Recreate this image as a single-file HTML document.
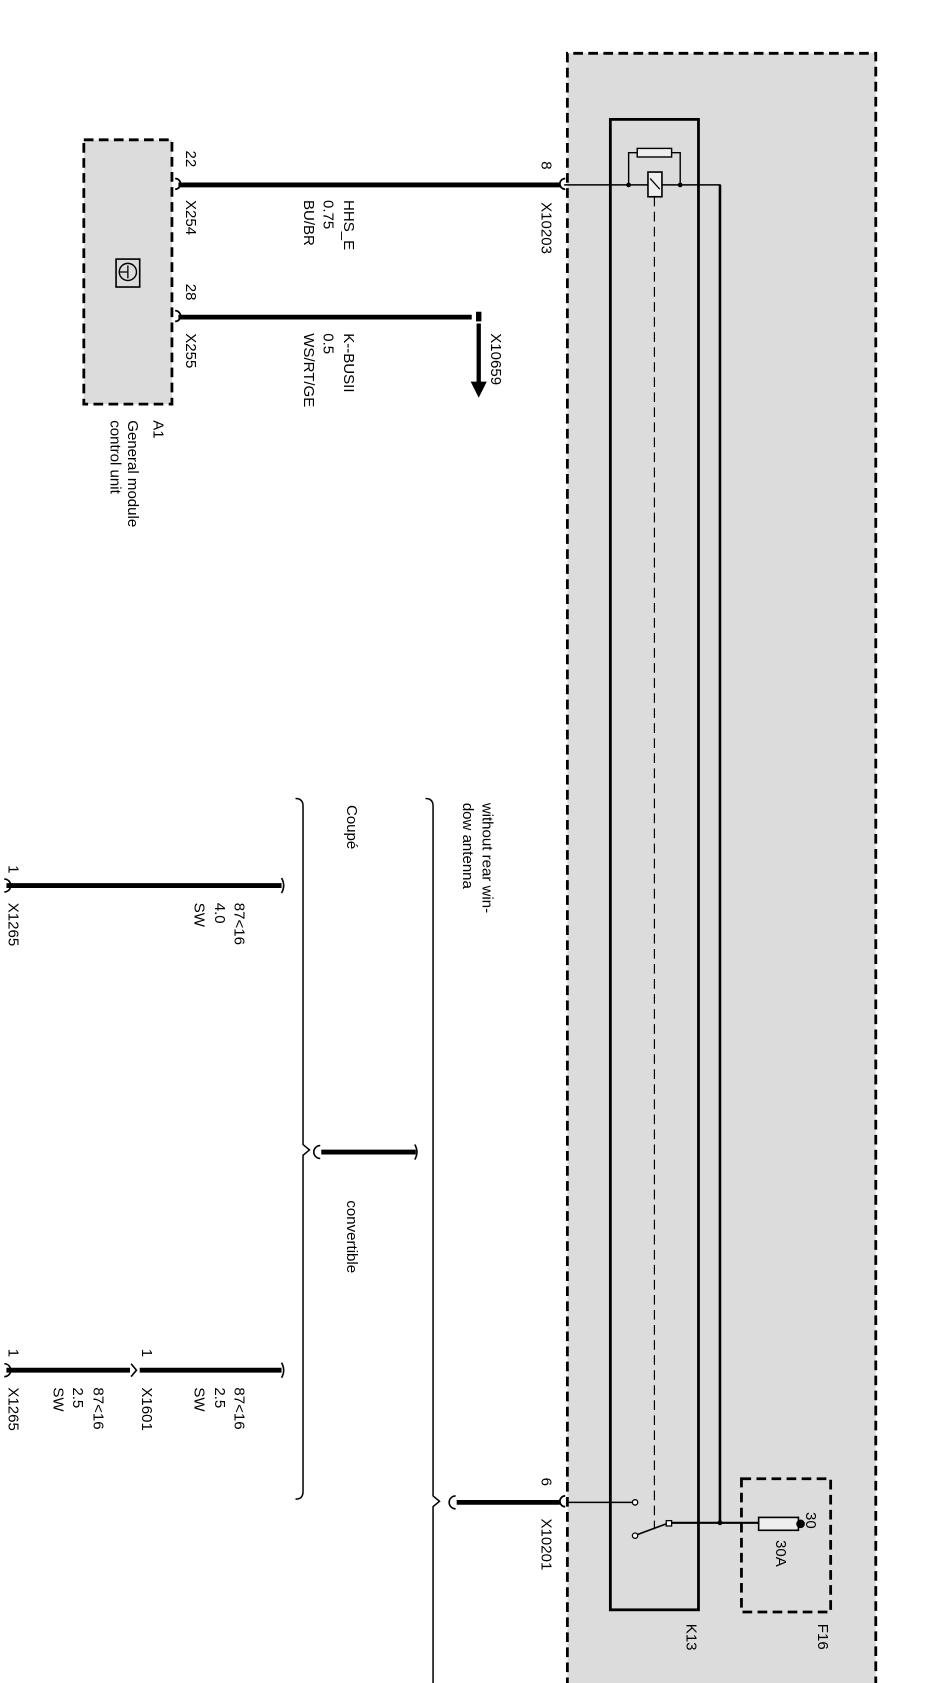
<!DOCTYPE html>
<html><head><meta charset="utf-8"><style>html,body{margin:0;padding:0;background:#fff}svg{display:block}text{font-family:"Liberation Sans",sans-serif;font-size:14px;fill:#000}</style></head>
<body>
<svg width="951" height="1683" viewBox="0 0 885 1566" xmlns="http://www.w3.org/2000/svg">
<rect width="885" height="1566" fill="#fff"/>
<!-- big grey box -->
<path d="M528,1570 V49.5 H815 V1570" fill="#dcdcdc" stroke="#000" stroke-width="2.6" stroke-dasharray="9 5"/>
<!-- A1 box -->
<rect x="78" y="130" width="82" height="246" fill="#dcdcdc" stroke="#000" stroke-width="2.6" stroke-dasharray="9 5"/>
<rect x="108" y="241" width="22" height="26" fill="none" stroke="#000" stroke-width="1.5"/>
<circle cx="119" cy="253" r="8" fill="none" stroke="#000" stroke-width="1.3"/>
<path d="M111,253 H119 M119,247 V259" stroke="#000" stroke-width="1.2"/>
<!-- wires top -->
<path d="M166,172 H521" stroke="#000" stroke-width="4.5"/>
<path d="M166,295 H439" stroke="#000" stroke-width="4.5"/>
<path d="M163,166 a5,5 0 0 1 0,10 M163,289 a5,5 0 0 1 0,10 M526,166 a5,5 0 0 0 0,10 M526,1392 a5,5 0 0 0 0,10" fill="none" stroke="#000" stroke-width="1.6"/>
<rect x="443" y="290" width="5" height="9" fill="#000"/>
<path d="M445.5,301 V358" stroke="#000" stroke-width="4"/>
<path d="M438,355 H453 L445.5,370 Z" fill="#000"/>
<!-- relay -->
<rect x="568" y="111" width="82" height="1387" fill="none" stroke="#000" stroke-width="2.6"/>
<path d="M525,172 H670 V1417" fill="none" stroke="#000" stroke-width="1.4"/>
<path d="M670,172 V1417" stroke="#000" stroke-width="2.4"/>
<rect x="593" y="138" width="32" height="8" fill="#eee" stroke="#000" stroke-width="1.3"/>
<path d="M585,172 V142 H593 M625,142 H633 V172" fill="none" stroke="#000" stroke-width="1.3"/>
<circle cx="585" cy="172" r="2.2"/><circle cx="633" cy="172" r="2.2"/>
<rect x="603" y="160" width="13" height="23" fill="#eee" stroke="#000" stroke-width="1.5"/>
<path d="M605,166 L614,176" stroke="#000" stroke-width="1.2"/>
<path d="M609,183 V1423" stroke="#000" stroke-width="1.1" stroke-dasharray="9 5"/>
<!-- switch -->
<path d="M528,1398 H589" stroke="#000" stroke-width="1.3"/>
<circle cx="591" cy="1398" r="2.5" fill="#fff" stroke="#000" stroke-width="1.2"/>
<circle cx="591" cy="1429" r="2.5" fill="#fff" stroke="#000" stroke-width="1.2"/>
<path d="M593,1428 L620,1418" stroke="#000" stroke-width="1.5"/>
<rect x="620" y="1415" width="5" height="5" fill="#fff" stroke="#000" stroke-width="1.2"/>
<path d="M625,1417 H706" stroke="#000" stroke-width="2"/>
<circle cx="670" cy="1417" r="2.3"/>
<!-- F16 -->
<rect x="690" y="1376" width="83" height="124" fill="none" stroke="#000" stroke-width="2.6" stroke-dasharray="9 5"/>
<rect x="706" y="1412" width="37" height="12" fill="#eee" stroke="#000" stroke-width="1.5"/>
<circle cx="745" cy="1418" r="4"/>
<!-- braces -->
<path d="M275,743 Q282,743 282,750 V1065 L288,1070 L282,1075 V1388 Q282,1395 275,1395" fill="none" stroke="#000" stroke-width="1.4"/>
<path d="M396,743 Q403,743 403,750 V1392 L409,1397 L403,1402 V1570" fill="none" stroke="#000" stroke-width="1.4"/>
<!-- short thick wires -->
<path d="M299,1072 H387" stroke="#000" stroke-width="4.5"/>
<path d="M298,1066 a5,5 0 0 0 0,12 M386,1065 q4,7 0,14" fill="none" stroke="#000" stroke-width="1.5"/>
<path d="M425,1398 H521" stroke="#000" stroke-width="4.5"/>
<path d="M424,1392 a5,5 0 0 0 0,12" fill="none" stroke="#000" stroke-width="1.5"/>
<!-- coupe wire -->
<path d="M6,824 H262" stroke="#000" stroke-width="4.5"/>
<path d="M4,818 a5,5 0 0 1 0,12 M262,817 q4,7 0,14" fill="none" stroke="#000" stroke-width="1.5"/>
<!-- bottom wires -->
<path d="M6,1275 H121 M130,1275 H262" stroke="#000" stroke-width="4.5"/>
<path d="M4,1269 a5,5 0 0 1 0,12 M122,1269 l5,6 l-5,6 M262,1268 q4,7 0,14" fill="none" stroke="#000" stroke-width="1.5"/>
<!-- texts -->
<g>
<text transform="translate(173,140) rotate(90)">22</text>
<text transform="translate(173,186) rotate(90)">X254</text>
<text transform="translate(173,264) rotate(90)">28</text>
<text transform="translate(173,310) rotate(90)">X255</text>
<text transform="translate(320,186) rotate(90)">HHS_E</text>
<text transform="translate(301,186) rotate(90)">0.75</text>
<text transform="translate(283,186) rotate(90)">BU/BR</text>
<text transform="translate(320,310) rotate(90)">K--BUSII</text>
<text transform="translate(301,310) rotate(90)">0.5</text>
<text transform="translate(283,310) rotate(90)">WS/RT/GE</text>
<text transform="translate(457,310) rotate(90)">X10659</text>
<text transform="translate(143,391) rotate(90)">A1</text>
<text transform="translate(119,391) rotate(90)">General module</text>
<text transform="translate(103,391) rotate(90)">control unit</text>
<text transform="translate(504,150) rotate(90)">8</text>
<text transform="translate(504,188) rotate(90)">X10203</text>
<text transform="translate(504,1375) rotate(90)">6</text>
<text transform="translate(504,1413) rotate(90)">X10201</text>
<text transform="translate(722,1433) rotate(90)">30A</text>
<text transform="translate(750,1407) rotate(90)">30</text>
<text transform="translate(639,1511) rotate(90)">K13</text>
<text transform="translate(761,1511) rotate(90)">F16</text>
<text transform="translate(323,749) rotate(90)">Coupé</text>
<text transform="translate(449,747) rotate(90)">without rear win-</text>
<text transform="translate(431,747) rotate(90)">dow antenna</text>
<text transform="translate(323,1117) rotate(90)">convertible</text>
<text transform="translate(218,840) rotate(90)">87&lt;16</text>
<text transform="translate(200,840) rotate(90)">4.0</text>
<text transform="translate(181,840) rotate(90)">SW</text>
<text transform="translate(8,840) rotate(90)">X1265</text>
<text transform="translate(8,805) rotate(90)">1</text>
<text transform="translate(218,1291) rotate(90)">87&lt;16</text>
<text transform="translate(200,1291) rotate(90)">2.5</text>
<text transform="translate(181,1291) rotate(90)">SW</text>
<text transform="translate(132,1291) rotate(90)">X1601</text>
<text transform="translate(132,1255) rotate(90)">1</text>
<text transform="translate(87,1291) rotate(90)">87&lt;16</text>
<text transform="translate(68,1291) rotate(90)">2.5</text>
<text transform="translate(50,1291) rotate(90)">SW</text>
<text transform="translate(8,1291) rotate(90)">X1265</text>
<text transform="translate(8,1255) rotate(90)">1</text>
</g>
</svg>
</body></html>
